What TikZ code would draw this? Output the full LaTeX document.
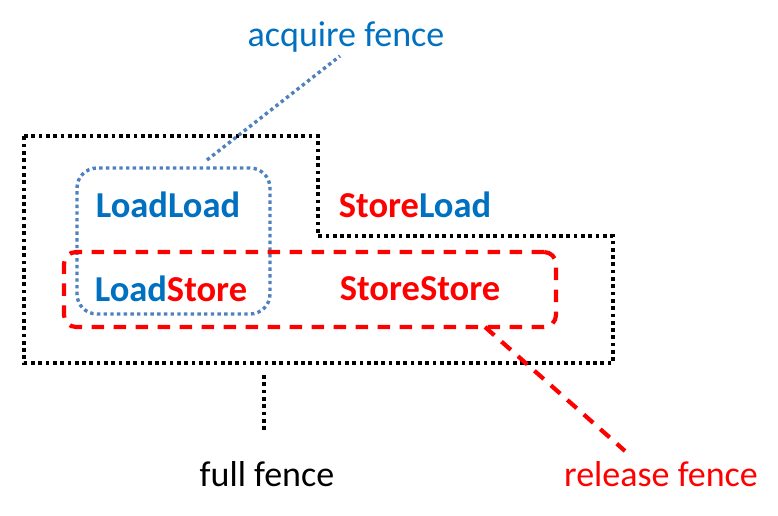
\documentclass[tikz,border=0pt]{standalone}
\usepackage{fontspec}
\setmainfont{Carlito}
\usetikzlibrary{fit}
\definecolor{tblue}{HTML}{0070C0}
\definecolor{lblue}{HTML}{4F81BD}
\definecolor{tred}{HTML}{FF0000}
\begin{document}
\begin{tikzpicture}[x=1pt,y=-1pt,
  lbl/.style={inner sep=0pt, font=\fontsize{36.5}{43}\selectfont\bfseries},
  captext/.style={inner sep=0pt, font=\fontsize{36}{43}\selectfont},
  blackdot/.style={draw=black, line width=3.7pt, dash pattern=on 3.7pt off 3.6pt},
  bluedot/.style={draw=lblue, line width=3.4pt, dash pattern=on 3.4pt off 3.3pt},
  reddash/.style={draw=tred, line width=4.2pt, dash pattern=on 12.5pt off 9.5pt}]
\useasboundingbox (0,0) rectangle (778,515);
% full fence outline
\draw[blackdot] (24,136) -- (318,136) -- (318,236) -- (613,236) -- (613,363) -- (24,363) -- cycle;
% texts
\node[lbl, text=tblue] (ll) at (168,205) {LoadLoad};
\node[lbl] (ls) at (171,289) {\textcolor{tblue}{Load}\textcolor{tred}{Store}};
\node[lbl] (sl) at (415,205) {\textcolor{tred}{Store}\textcolor{tblue}{Load}};
\node[lbl, text=tred] (ss) at (420,289) {StoreStore};
% boxes
\coordinate (bbA) at (77,168);
\coordinate (bbB) at (270,314);
\node[bluedot, rounded corners=20pt, inner sep=0pt, fit=(bbA)(bbB)] (acqbox) {};
\coordinate (rbA) at (64,252);
\coordinate (rbB) at (556,327);
\node[reddash, rounded corners=12pt, inner sep=0pt, fit=(rbA)(rbB)] (relbox) {};
% labels
\node[captext, text=tblue] (acq) at (346,37) {acquire fence};
\node[captext, text=black] (full) at (267,474) {full fence};
\node[captext, text=tred] (rel) at (661,474) {release fence};
% connectors
\coordinate (acqEnd) at (340,56);
\draw[bluedot] (207,160) -- (acqEnd);
\coordinate (fullTop) at (264,375);
\coordinate (fullBot) at (264,433);
\draw[blackdot] (fullTop) -- (fullBot);
\coordinate (relStart) at (485,327);
\coordinate (relEnd) at (625,451);
\draw[reddash] (relStart) -- (relEnd);
\end{tikzpicture}
\end{document}
